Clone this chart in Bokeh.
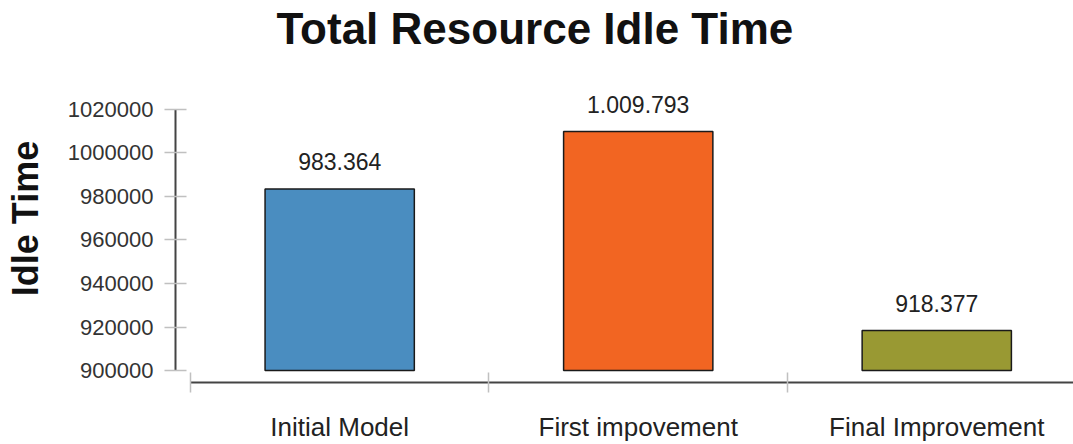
from bokeh.plotting import figure
from bokeh.models import Range1d, LinearAxis, FixedTicker, ColumnDataSource, NumeralTickFormatter
from bokeh.embed import file_html
from bokeh.resources import INLINE

# ---- data ----
categories = ["Initial Model", "First impovement", "Final Improvement"]
idle_time = [983364, 1009793, 918377]
bar_colors = ["#4A8DC0", "#F26522", "#999933"]
y_ticks = [900000, 920000, 940000, 960000, 980000, 1000000, 1020000]
title_text = "Total Resource Idle Time"
y_label = "Idle Time"

# ---- derived ----
xs = [i + 0.5 for i in range(len(categories))]
value_labels = [f"{v:,}".replace(",", ".") for v in idle_time]
src = ColumnDataSource(dict(x=xs, top=idle_time, color=bar_colors, lbl=value_labels))

p = figure(width=1073, height=444, output_backend="svg", toolbar_location=None,
           x_range=Range1d(-0.05, 2.958), y_range=Range1d(894504, 1045191),
           x_axis_location=None, y_axis_location=None,
           min_border_left=175, min_border_right=0, min_border_top=54, min_border_bottom=61)
p.outline_line_color = None
p.xgrid.visible = False
p.ygrid.visible = False
p.background_fill_color = "white"
p.border_fill_color = "white"

p.title.text = title_text
p.title.text_font = "Liberation Sans"
p.title.text_font_size = "44px"
p.title.text_font_style = "bold"
p.title.text_color = "#111111"
p.title.align = "left"
p.title.offset = 101
p.title.vertical_align = "bottom"
p.title.standoff = 3

p.vbar(x="x", top="top", bottom=900000, width=0.5, fill_color="color",
       line_color="#1a1a1a", line_width=1.5, source=src)
p.text(x="x", y="top", text="lbl", source=src, text_align="center",
       text_baseline="bottom", y_offset=-19, text_font_size="23px",
       text_color="#222222", text_font={"value": "Liberation Sans"})

# y axis
yax = LinearAxis(ticker=FixedTicker(ticks=y_ticks), bounds=(900000, 1020000),
                 formatter=NumeralTickFormatter(format="0"))
yax.axis_label = y_label
yax.axis_label_text_font = "Liberation Sans"
yax.axis_label_text_font_size = "36px"
yax.axis_label_text_font_style = "bold"
yax.axis_label_text_color = "#111111"
yax.axis_label_standoff = 19
yax.major_label_text_font = "Liberation Sans"
yax.major_label_text_font_size = "22px"
yax.major_label_text_color = "#333333"
yax.major_label_standoff = 11
yax.axis_line_color = "#444444"
yax.axis_line_width = 2
yax.major_tick_line_color = "#c0c0c0"
yax.major_tick_line_width = 1.5
yax.major_tick_in = 11
yax.major_tick_out = 11
yax.minor_tick_line_color = None
p.add_layout(yax, "left")

# x axis: labels at category centres, ticks at category boundaries
bounds_ticks = list(range(len(categories) + 1))
xax = LinearAxis(ticker=FixedTicker(ticks=xs, minor_ticks=bounds_ticks), bounds=(0, len(categories)))
xax.major_label_overrides = {x: c for x, c in zip(xs, categories)}
xax.major_label_text_font = "Liberation Sans"
xax.major_label_text_font_size = "26px"
xax.major_label_text_color = "#222222"
xax.major_label_standoff = 19
xax.major_tick_line_color = None
xax.major_tick_in = 0
xax.major_tick_out = 0
xax.minor_tick_line_color = "#c0c0c0"
xax.minor_tick_line_width = 1.5
xax.minor_tick_in = 10
xax.minor_tick_out = 10
xax.axis_line_color = "#444444"
xax.axis_line_width = 2
p.add_layout(xax, "below")

open("out.html", "w").write(file_html(p, INLINE))
